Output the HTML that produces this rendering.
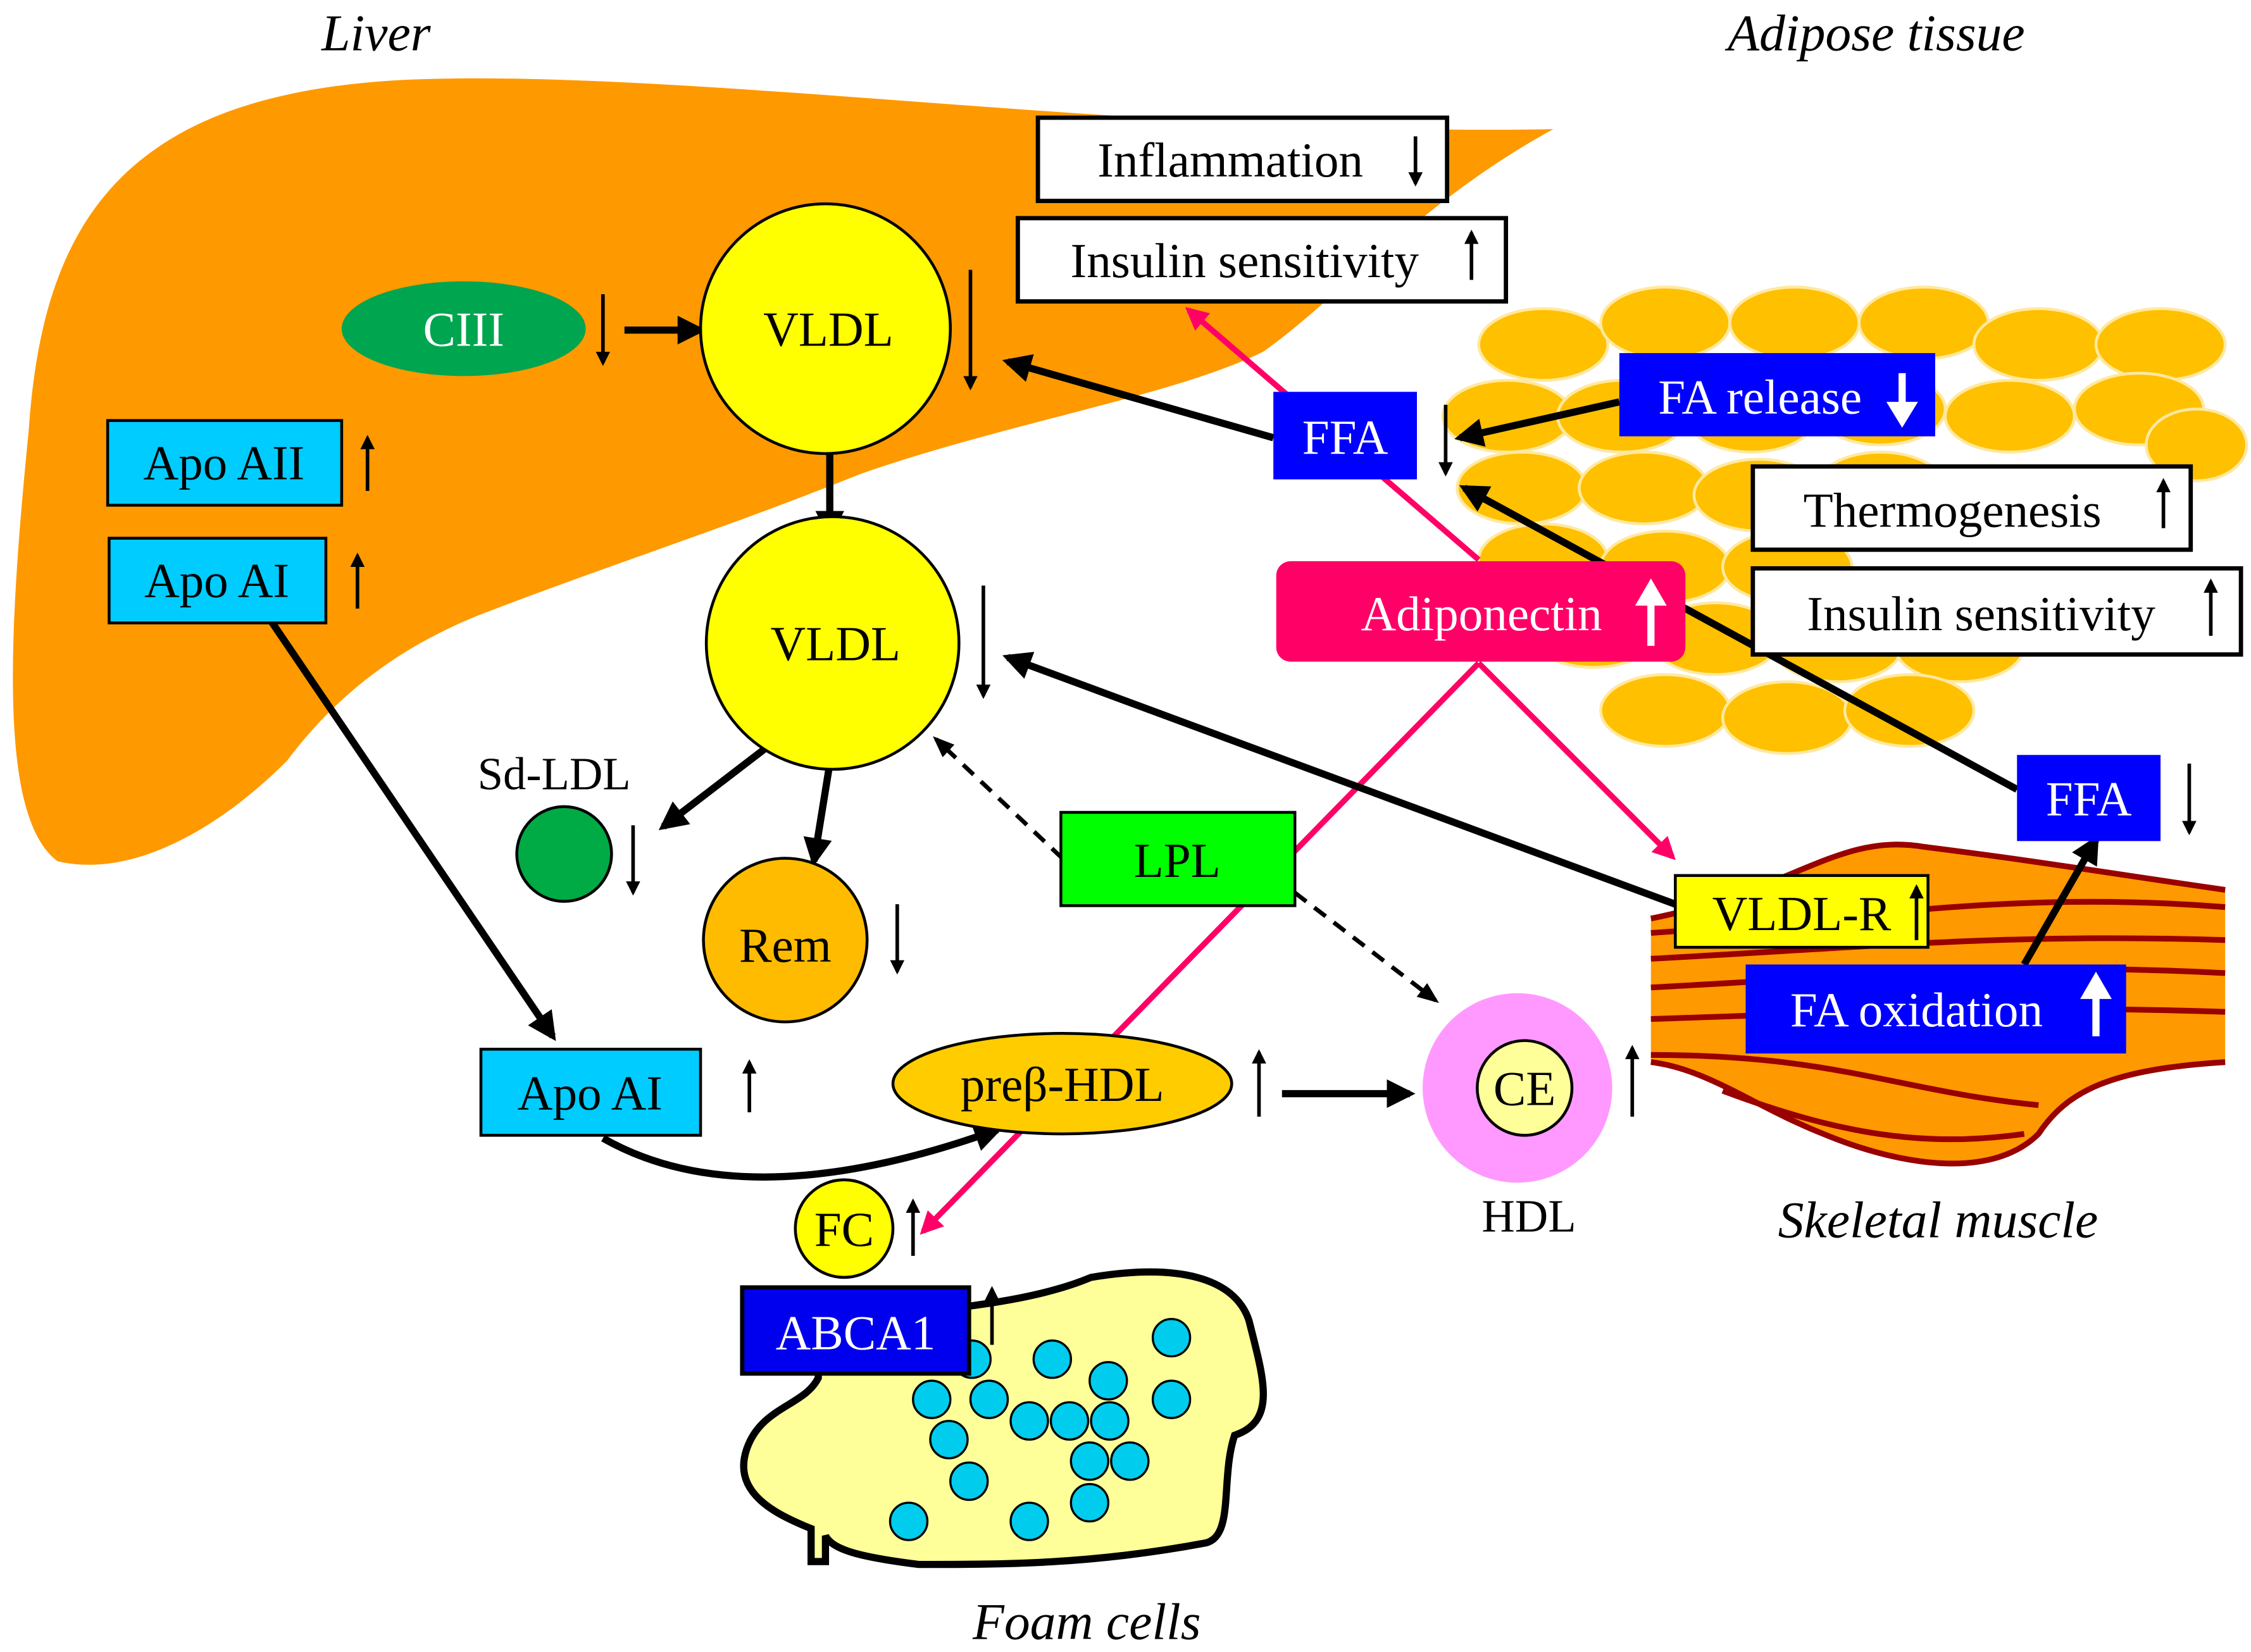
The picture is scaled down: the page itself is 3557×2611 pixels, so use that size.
<!DOCTYPE html>
<html><head><meta charset="utf-8"><style>html,body{margin:0;padding:0;background:#fff}svg{display:block}</style></head>
<body>
<svg width="3557" height="2611" viewBox="0 0 1568 1151" preserveAspectRatio="none" xmlns="http://www.w3.org/2000/svg" font-family="'Liberation Serif', serif">
<defs>
<marker id="a" viewBox="0 0 10 10" refX="8" refY="5" markerWidth="4" markerHeight="4" orient="auto-start-reverse"><path d="M0,0 L10,5 L0,10 Z" fill="#000"/></marker>
<marker id="p" viewBox="0 0 10 10" refX="8" refY="5" markerWidth="4" markerHeight="4" orient="auto"><path d="M0,0 L10,5 L0,10 Z" fill="#FF0066"/></marker>
<marker id="s" viewBox="0 0 10 10" refX="8" refY="5" markerWidth="5" markerHeight="5" orient="auto"><path d="M0,1 L10,5 L0,9 Z" fill="#000"/></marker>
</defs>
<rect width="1568" height="1151" fill="#fff"/>
<path d="M40 600 C0 570 5 450 20 300 C30 150 90 60 300 55 C500 50 800 95 1082 90 C990 140 930 210 880 245 C820 275 700 295 600 330 C500 370 420 395 330 430 C270 455 230 490 200 530 C150 580 90 612 40 600 Z" fill="#FF9900"/>
<g fill="#FFC000" stroke="#FFE9A0" stroke-width="2">
<ellipse cx="1075" cy="240" rx="45" ry="25"/><ellipse cx="1160" cy="225" rx="45" ry="25"/><ellipse cx="1250" cy="225" rx="45" ry="25"/><ellipse cx="1340" cy="225" rx="45" ry="25"/><ellipse cx="1420" cy="240" rx="45" ry="25"/><ellipse cx="1505" cy="240" rx="45" ry="25"/>
<ellipse cx="1050" cy="290" rx="45" ry="25"/><ellipse cx="1130" cy="290" rx="45" ry="25"/><ellipse cx="1220" cy="290" rx="45" ry="25"/><ellipse cx="1310" cy="285" rx="45" ry="25"/><ellipse cx="1400" cy="290" rx="45" ry="25"/><ellipse cx="1490" cy="285" rx="45" ry="25"/><ellipse cx="1530" cy="310" rx="35" ry="25"/>
<ellipse cx="1060" cy="340" rx="45" ry="25"/><ellipse cx="1145" cy="340" rx="45" ry="25"/><ellipse cx="1225" cy="345" rx="45" ry="25"/><ellipse cx="1310" cy="340" rx="45" ry="25"/>
<ellipse cx="1075" cy="390" rx="45" ry="25"/><ellipse cx="1160" cy="395" rx="45" ry="25"/><ellipse cx="1245" cy="395" rx="45" ry="25"/>
<ellipse cx="1110" cy="440" rx="45" ry="25"/><ellipse cx="1195" cy="445" rx="45" ry="25"/><ellipse cx="1280" cy="450" rx="45" ry="25"/><ellipse cx="1365" cy="450" rx="45" ry="25"/>
<ellipse cx="1160" cy="495" rx="45" ry="25"/><ellipse cx="1245" cy="500" rx="45" ry="25"/><ellipse cx="1330" cy="495" rx="45" ry="25"/>
</g>
<path d="M1150 640 C1250 620 1280 580 1340 590 C1420 600 1480 610 1550 620 L1550 740 C1470 745 1440 760 1420 790 C1390 820 1330 815 1270 790 C1220 770 1190 745 1150 740 Z" fill="#FF9900"/>
<g stroke="#990000" stroke-width="4" fill="none">
<path d="M1150 650 C1300 640 1400 620 1550 632"/><path d="M1150 668 C1300 660 1400 650 1550 655"/><path d="M1150 688 C1300 680 1400 670 1550 678"/><path d="M1150 710 C1300 705 1400 700 1550 705"/><path d="M1150 735 C1280 735 1320 760 1420 770"/><path d="M1200 760 C1280 790 1340 800 1410 790"/>
<path d="M1150 640 C1250 620 1280 580 1340 590 C1420 600 1480 610 1550 620"/><path d="M1150 740 C1190 745 1220 770 1270 790 C1330 815 1390 820 1420 790 C1440 760 1470 745 1550 740"/>
</g>
<path d="M570 930 C620 910 700 915 760 890 C820 880 860 890 870 920 C880 960 890 990 860 1000 C850 1030 860 1070 840 1075 C760 1090 700 1090 640 1090 C600 1085 580 1080 575 1070 L575 1088 L565 1088 L565 1065 C540 1055 510 1040 520 1010 C530 980 560 980 570 960 Z" fill="#FFFF99" stroke="#000" stroke-width="5"/>
<g fill="#00CCEE" stroke="#000" stroke-width="1.5">
<circle cx="677" cy="947" r="13"/><circle cx="733" cy="947" r="13"/><circle cx="816" cy="932" r="13"/><circle cx="649" cy="975" r="13"/><circle cx="689" cy="975" r="13"/><circle cx="772" cy="962" r="13"/><circle cx="816" cy="975" r="13"/><circle cx="661" cy="1003" r="13"/><circle cx="717" cy="990" r="13"/><circle cx="745" cy="990" r="13"/><circle cx="773" cy="990" r="13"/><circle cx="675" cy="1032" r="13"/><circle cx="759" cy="1018" r="13"/><circle cx="787" cy="1018" r="13"/><circle cx="633" cy="1060" r="13"/><circle cx="717" cy="1060" r="13"/><circle cx="759" cy="1047" r="13"/>
</g>
<g stroke="#FF0066" stroke-width="4" fill="none">
<line x1="1030" y1="390" x2="828" y2="216" marker-end="url(#p)"/>
<line x1="1030" y1="462" x2="1165" y2="597" marker-end="url(#p)"/>
<line x1="1030" y1="462" x2="643" y2="858" marker-end="url(#p)"/>
</g>
<g stroke="#000" stroke-width="5" fill="none" marker-end="url(#a)">
<line x1="435" y1="230" x2="488" y2="230"/>
<line x1="578" y1="310" x2="578" y2="372"/>
<line x1="187" y1="430" x2="385" y2="722"/>
<line x1="887" y1="305" x2="702" y2="252"/>
<line x1="1128" y1="280" x2="1017" y2="305"/>
<line x1="1405" y1="550" x2="1020" y2="340"/>
<line x1="1167" y1="630" x2="702" y2="458"/>
<line x1="1410" y1="672" x2="1460" y2="585"/>
<line x1="535" y1="520" x2="462" y2="576"/>
<line x1="578" y1="532" x2="567" y2="600"/>
<line x1="893" y1="762" x2="982" y2="762"/>
<path d="M420 793 Q520 850 695 787"/>
</g>
<g stroke="#000" stroke-width="3" fill="none" stroke-dasharray="10,7" marker-end="url(#s)">
<line x1="740" y1="598" x2="652" y2="515"/>
<line x1="902" y1="622" x2="1000" y2="697"/>
</g>
<g stroke="#000" stroke-width="2.5" marker-end="url(#a)">
<line x1="420" y1="205" x2="420" y2="253"/>
<line x1="676" y1="188" x2="676" y2="270"/>
<line x1="685" y1="408" x2="685" y2="485"/>
<line x1="256" y1="342" x2="256" y2="305"/>
<line x1="249" y1="424" x2="249" y2="387"/>
<line x1="1007" y1="282" x2="1007" y2="330"/>
<line x1="1525" y1="532" x2="1525" y2="580"/>
<line x1="441" y1="575" x2="441" y2="622"/>
<line x1="625" y1="630" x2="625" y2="677"/>
<line x1="1137" y1="778" x2="1137" y2="730"/>
<line x1="877" y1="778" x2="877" y2="733"/>
<line x1="522" y1="775" x2="522" y2="740"/>
<line x1="636" y1="875" x2="636" y2="837"/>
<line x1="691" y1="937" x2="691" y2="898"/>
</g>
<g stroke="#000" stroke-width="3">
<rect x="723" y="82" width="285" height="58" fill="#fff"/>
<rect x="709" y="152" width="340" height="58" fill="#fff"/>
<rect x="1221" y="325" width="305" height="58" fill="#fff"/>
<rect x="1221" y="396" width="340" height="60" fill="#fff"/>
<rect x="75" y="293" width="163" height="59" fill="#00CCFF" stroke-width="2"/>
<rect x="76" y="375" width="151" height="59" fill="#00CCFF" stroke-width="2"/>
<rect x="335" y="731" width="153" height="60" fill="#00CCFF" stroke-width="2"/>
<rect x="739" y="566" width="163" height="65" fill="#00FF00" stroke-width="2"/>
<rect x="1167" y="610" width="176" height="50" fill="#FFFF00" stroke-width="2"/>
<rect x="517" y="897" width="158" height="60" fill="#0000EE"/>
</g>
<g stroke="#000" stroke-width="2.5" marker-end="url(#a)">
<line x1="986" y1="95" x2="986" y2="128"/>
<line x1="1025" y1="195" x2="1025" y2="162"/>
<line x1="1507" y1="368" x2="1507" y2="335"/>
<line x1="1540" y1="443" x2="1540" y2="405"/>
<line x1="1335" y1="655" x2="1335" y2="618"/>
</g>
<rect x="887" y="273" width="100" height="61" fill="#0000FF"/>
<rect x="1128" y="246" width="220" height="58" fill="#0000FF"/>
<rect x="1405" y="526" width="100" height="60" fill="#0000FF"/>
<rect x="1216" y="672" width="265" height="62" fill="#0000FF"/>
<rect x="889" y="391" width="285" height="70" rx="10" fill="#FF0066"/>
<ellipse cx="323" cy="229" rx="85" ry="33" fill="#00A550"/>
<circle cx="575" cy="229" r="87" fill="#FFFF00" stroke="#000" stroke-width="2"/>
<circle cx="580" cy="448" r="88" fill="#FFFF00" stroke="#000" stroke-width="2"/>
<circle cx="393" cy="595" r="33" fill="#00AA44" stroke="#000" stroke-width="2"/>
<circle cx="547" cy="655" r="57" fill="#FFBB00" stroke="#000" stroke-width="2"/>
<circle cx="1057" cy="758" r="66" fill="#FF99FF"/>
<circle cx="1062" cy="758" r="33" fill="#FFFF99" stroke="#000" stroke-width="2"/>
<ellipse cx="740" cy="755" rx="118" ry="35" fill="#FFCC00" stroke="#000" stroke-width="2"/>
<circle cx="588" cy="856" r="34" fill="#FFFF00" stroke="#000" stroke-width="2"/>
<g stroke="#fff" stroke-width="5" fill="#fff">
<line x1="1325" y1="260" x2="1325" y2="285"/><path d="M1314 280 L1336 280 L1325 298 Z" stroke="none"/>
<line x1="1150" y1="450" x2="1150" y2="418"/><path d="M1139 422 L1161 422 L1150 403 Z" stroke="none"/>
<line x1="1460" y1="722" x2="1460" y2="692"/><path d="M1449 696 L1471 696 L1460 677 Z" stroke="none"/>
</g>
<g font-size="34" text-anchor="middle">
<text x="262" y="35" font-style="italic" font-size="36">Liver</text>
<text x="1307" y="35" font-style="italic" font-size="36">Adipose tissue</text>
<text x="1350" y="862" font-style="italic" font-size="36">Skeletal muscle</text>
<text x="757" y="1142" font-style="italic" font-size="36">Foam cells</text>
<text x="857" y="123">Inflammation</text>
<text x="867" y="193">Insulin sensitivity</text>
<text x="1360" y="367">Thermogenesis</text>
<text x="1380" y="439">Insulin sensitivity</text>
<text x="323" y="241" fill="#fff">CIII</text>
<text x="577" y="241">VLDL</text>
<text x="582" y="460">VLDL</text>
<text x="156" y="334">Apo AII</text>
<text x="151" y="416">Apo AI</text>
<text x="411" y="773">Apo AI</text>
<text x="820" y="611">LPL</text>
<text x="1255" y="648">VLDL-R</text>
<text x="596" y="940" fill="#fff">ABCA1</text>
<text x="937" y="316" fill="#fff">FFA</text>
<text x="1455" y="568" fill="#fff">FFA</text>
<text x="1226" y="288" fill="#fff">FA release</text>
<text x="1335" y="715" fill="#fff">FA oxidation</text>
<text x="1032" y="439" fill="#fff">Adiponectin</text>
<text x="386" y="550" font-size="32">Sd-LDL</text>
<text x="547" y="670">Rem</text>
<text x="1062" y="770">CE</text>
<text x="1065" y="858" font-size="32">HDL</text>
<text x="740" y="767">preβ-HDL</text>
<text x="588" y="868">FC</text>
</g>
</svg>
</body></html>
